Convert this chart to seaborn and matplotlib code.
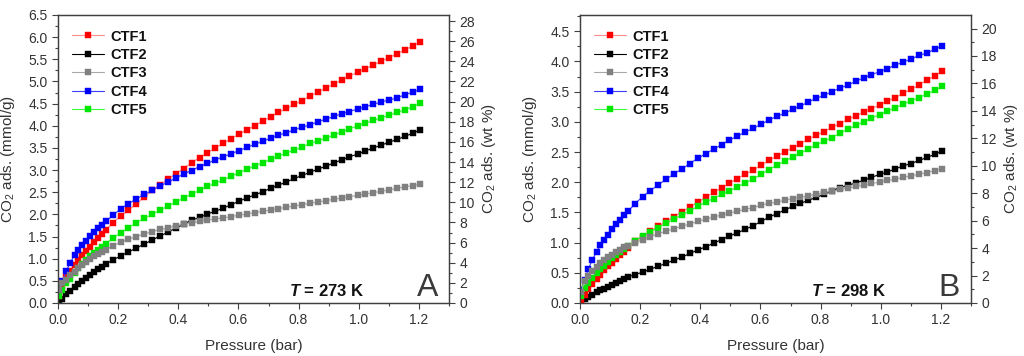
import matplotlib
matplotlib.use("Agg")
import matplotlib.pyplot as plt
from matplotlib.ticker import MultipleLocator, FormatStrFormatter
import pandas as pd
import seaborn as sns

# pressure points (bar), shared by both isotherm sets
pressure = [0.004, 0.015, 0.028, 0.041, 0.055, 0.068, 0.081, 0.094, 0.107, 0.120, 0.134, 0.147, 0.160,
            0.182, 0.208, 0.234, 0.261, 0.287, 0.313, 0.339, 0.366, 0.392, 0.418,
            0.444, 0.471, 0.497, 0.523, 0.549, 0.576, 0.602, 0.628, 0.654, 0.681,
            0.707, 0.733, 0.759, 0.786, 0.812, 0.838, 0.864, 0.891, 0.917, 0.943,
            0.969, 0.996, 1.022, 1.048, 1.074, 1.101, 1.127, 1.153, 1.179, 1.205]

# CO2 uptake at 273 K (mmol/g)
ctf1_273 = [0.15, 0.38, 0.58, 0.73, 0.86, 0.97, 1.08, 1.18, 1.27, 1.37, 1.47, 1.56, 1.65,
            1.81, 1.96, 2.09, 2.24, 2.39, 2.54, 2.67, 2.79, 2.92, 3.03, 3.17, 3.28, 3.39, 3.50,
            3.60, 3.71, 3.81, 3.91, 4.00, 4.11, 4.20, 4.30, 4.39, 4.48, 4.57, 4.67, 4.76, 4.85,
            4.94, 5.03, 5.12, 5.21, 5.29, 5.37, 5.46, 5.54, 5.63, 5.71, 5.80, 5.89]
ctf2_273 = [0.05, 0.10, 0.20, 0.28, 0.35, 0.43, 0.50, 0.57, 0.63, 0.70, 0.76, 0.82, 0.88,
            0.97, 1.06, 1.15, 1.24, 1.33, 1.42, 1.51, 1.60, 1.69, 1.78, 1.87, 1.93, 2.01, 2.07,
            2.14, 2.22, 2.30, 2.37, 2.44, 2.51, 2.59, 2.66, 2.73, 2.81, 2.88, 2.95, 3.02, 3.09,
            3.16, 3.23, 3.30, 3.36, 3.43, 3.50, 3.56, 3.63, 3.69, 3.76, 3.83, 3.91]
ctf3_273 = [0.30, 0.44, 0.53, 0.63, 0.71, 0.78, 0.86, 0.93, 0.99, 1.05, 1.11, 1.15, 1.20,
            1.29, 1.37, 1.44, 1.50, 1.56, 1.61, 1.66, 1.70, 1.74, 1.78, 1.81, 1.84, 1.87, 1.90,
            1.92, 1.95, 1.98, 2.01, 2.04, 2.07, 2.10, 2.13, 2.16, 2.19, 2.22, 2.25, 2.28, 2.31,
            2.34, 2.37, 2.40, 2.43, 2.46, 2.49, 2.52, 2.55, 2.59, 2.62, 2.65, 2.68]
ctf4_273 = [0.30, 0.50, 0.73, 0.91, 1.08, 1.20, 1.30, 1.41, 1.51, 1.60, 1.69, 1.76, 1.84,
            1.98, 2.12, 2.24, 2.35, 2.45, 2.54, 2.64, 2.73, 2.82, 2.91, 2.99, 3.08, 3.15, 3.23,
            3.30, 3.37, 3.44, 3.51, 3.58, 3.65, 3.72, 3.79, 3.84, 3.91, 3.97, 4.02, 4.09, 4.15,
            4.21, 4.27, 4.32, 4.38, 4.43, 4.48, 4.54, 4.58, 4.63, 4.70, 4.76, 4.82]
ctf5_273 = [0.15, 0.29, 0.44, 0.55, 0.67, 0.78, 0.87, 0.96, 1.05, 1.12, 1.20, 1.27, 1.34,
            1.46, 1.58, 1.70, 1.81, 1.91, 2.00, 2.09, 2.19, 2.28, 2.37, 2.46, 2.54, 2.63, 2.70,
            2.78, 2.86, 2.94, 3.02, 3.09, 3.17, 3.24, 3.31, 3.39, 3.45, 3.52, 3.60, 3.66, 3.72,
            3.79, 3.86, 3.93, 4.00, 4.06, 4.12, 4.18, 4.24, 4.30, 4.36, 4.43, 4.51]

# CO2 uptake at 298 K (mmol/g)
ctf1_298 = [0.05, 0.14, 0.24, 0.32, 0.40, 0.47, 0.54, 0.61, 0.67, 0.73, 0.79, 0.85, 0.91,
            1.02, 1.10, 1.19, 1.27, 1.35, 1.43, 1.51, 1.59, 1.67, 1.75, 1.83, 1.91, 1.98, 2.06,
            2.13, 2.20, 2.28, 2.36, 2.43, 2.50, 2.57, 2.64, 2.71, 2.78, 2.84, 2.91, 2.97, 3.04,
            3.10, 3.16, 3.22, 3.28, 3.34, 3.40, 3.47, 3.54, 3.61, 3.69, 3.76, 3.84]
ctf2_298 = [0.02, 0.06, 0.10, 0.14, 0.18, 0.21, 0.24, 0.27, 0.30, 0.33, 0.37, 0.40, 0.43,
            0.47, 0.51, 0.56, 0.61, 0.66, 0.71, 0.76, 0.82, 0.88, 0.93, 0.99, 1.05, 1.11, 1.16,
            1.22, 1.28, 1.35, 1.42, 1.48, 1.54, 1.60, 1.65, 1.70, 1.75, 1.80, 1.86, 1.91, 1.95,
            1.99, 2.03, 2.08, 2.13, 2.17, 2.22, 2.27, 2.31, 2.36, 2.41, 2.46, 2.52]
ctf3_298 = [0.18, 0.36, 0.45, 0.53, 0.60, 0.66, 0.71, 0.76, 0.80, 0.84, 0.88, 0.92, 0.95,
            1.00, 1.05, 1.10, 1.15, 1.19, 1.23, 1.27, 1.31, 1.35, 1.39, 1.42, 1.46, 1.49, 1.52,
            1.55, 1.58, 1.62, 1.65, 1.67, 1.70, 1.73, 1.75, 1.78, 1.80, 1.83, 1.85, 1.88, 1.90,
            1.93, 1.95, 1.98, 2.00, 2.03, 2.05, 2.08, 2.11, 2.13, 2.16, 2.19, 2.22]
ctf4_298 = [0.22, 0.38, 0.57, 0.71, 0.85, 0.96, 1.05, 1.13, 1.22, 1.30, 1.38, 1.45, 1.52,
            1.64, 1.76, 1.86, 1.96, 2.05, 2.14, 2.22, 2.31, 2.40, 2.47, 2.55, 2.62, 2.70, 2.76,
            2.83, 2.89, 2.96, 3.03, 3.09, 3.14, 3.21, 3.26, 3.33, 3.39, 3.44, 3.50, 3.56, 3.61,
            3.67, 3.73, 3.78, 3.83, 3.88, 3.94, 3.99, 4.04, 4.10, 4.14, 4.20, 4.26]
ctf5_298 = [0.12, 0.25, 0.33, 0.41, 0.49, 0.56, 0.62, 0.68, 0.74, 0.80, 0.85, 0.90, 0.95,
            1.03, 1.11, 1.18, 1.25, 1.32, 1.39, 1.46, 1.53, 1.60, 1.67, 1.73, 1.80, 1.86, 1.92,
            1.99, 2.05, 2.13, 2.21, 2.28, 2.35, 2.42, 2.48, 2.55, 2.62, 2.68, 2.74, 2.81, 2.88,
            2.94, 3.00, 3.06, 3.12, 3.18, 3.23, 3.29, 3.35, 3.40, 3.46, 3.52, 3.59]

samples = ["CTF1", "CTF2", "CTF3", "CTF4", "CTF5"]
marker_colors = {"CTF1": "#ff0000", "CTF2": "#000000", "CTF3": "#808080",
                 "CTF4": "#0000ff", "CTF5": "#00e600"}
line_colors = {"CTF1": "#ff8c8c", "CTF2": "#000000", "CTF3": "#a8a8a8",
               "CTF4": "#3c3cff", "CTF5": "#3cff3c"}
zorders = {"CTF1": 3, "CTF2": 2, "CTF3": 6, "CTF4": 4, "CTF5": 5}

WT_FACTOR = 4.4  # mmol/g -> wt %


def long_table(series):
    rows = []
    for name, vals in zip(samples, series):
        rows.append(pd.DataFrame({"pressure": pressure, "uptake": vals, "sample": name}))
    return pd.concat(rows, ignore_index=True)


df_273 = long_table([ctf1_273, ctf2_273, ctf3_273, ctf4_273, ctf5_273])
df_298 = long_table([ctf1_298, ctf2_298, ctf3_298, ctf4_298, ctf5_298])

sns.set_style("ticks")
plt.rcParams["font.family"] = ["Liberation Sans", "DejaVu Sans"]
plt.rcParams["mathtext.fontset"] = "custom"
plt.rcParams["mathtext.rm"] = "Liberation Sans"
plt.rcParams["mathtext.it"] = "Liberation Sans:italic"
plt.rcParams["mathtext.bf"] = "Liberation Sans:bold"
plt.rcParams["mathtext.bfit"] = "Liberation Sans:italic:bold"

spine_col = "#404040"
text_col = "#333333"

fig = plt.figure(figsize=(10.24, 3.56), dpi=100)
ax_a = fig.add_axes([0.0566, 0.1489, 0.3819, 0.8090])
ax_b = fig.add_axes([0.5664, 0.1489, 0.3818, 0.8090])


def draw_panel(ax, df, ymax, temp, letter):
    for name in samples:
        sub = df[df["sample"] == name]
        sns.lineplot(data=sub, x="pressure", y="uptake", ax=ax, label=name,
                     color=line_colors[name], linewidth=0.8, marker="s",
                     markersize=4.8, markerfacecolor=marker_colors[name],
                     markeredgecolor=marker_colors[name], markeredgewidth=0.3,
                     estimator=None, sort=False, zorder=zorders[name])
    ax.set_xlim(0, 1.3)
    ax.set_ylim(0, ymax)
    ax.xaxis.set_major_locator(MultipleLocator(0.2))
    ax.xaxis.set_minor_locator(MultipleLocator(0.1))
    ax.yaxis.set_major_locator(MultipleLocator(0.5))
    ax.yaxis.set_minor_locator(MultipleLocator(0.25))
    ax.xaxis.set_major_formatter(FormatStrFormatter("%.1f"))
    ax.yaxis.set_major_formatter(FormatStrFormatter("%.1f"))
    ax.tick_params(which="major", direction="out", length=4, width=0.8,
                   color=spine_col, labelsize=10, labelcolor=text_col)
    ax.tick_params(which="minor", direction="out", length=2, width=0.8, color=spine_col)
    for sp in ax.spines.values():
        sp.set_visible(True)
        sp.set_color(spine_col)
        sp.set_linewidth(0.9)
    ax.set_xlabel("Pressure (bar)", fontsize=11, color=text_col)
    ax.set_ylabel(r"CO$_2$ ads. (mmol/g)", fontsize=11, color=text_col)
    ax.xaxis.set_label_coords(0.5, -0.125)
    ax.yaxis.set_label_coords(-0.105, 0.5)

    leg = ax.legend(loc="upper left", bbox_to_anchor=(0.01, 0.985), frameon=False,
                    prop={"weight": "bold", "size": 10.5}, handlelength=2.2,
                    handletextpad=0.4, labelspacing=0.3, borderaxespad=0.3)
    for t in leg.get_texts():
        t.set_color("#111111")

    ax.text(0.59, 0.025, r"$\mathbfit{T}$ = " + temp, transform=ax.transAxes,
            fontsize=12, fontweight="bold", color="#111111", ha="left", va="baseline")
    ax.text(0.972, 0.025, letter, transform=ax.transAxes, fontsize=23,
            color="#3a3a3a", ha="right", va="baseline")

    ax2 = ax.twinx()
    ax2.set_ylim(0, ymax * WT_FACTOR)
    ax2.yaxis.set_major_locator(MultipleLocator(2))
    ax2.yaxis.set_minor_locator(MultipleLocator(1))
    ax2.tick_params(which="major", direction="out", length=4, width=0.8,
                    color=spine_col, labelsize=10, labelcolor=text_col)
    ax2.tick_params(which="minor", direction="out", length=2, width=0.8, color=spine_col)
    for sp in ax2.spines.values():
        sp.set_color(spine_col)
        sp.set_linewidth(0.9)
    ax2.set_ylabel(r"CO$_2$ ads. (wt %)", fontsize=11, color=text_col, rotation=90)
    ax2.yaxis.set_label_coords(1.08, 0.5)


draw_panel(ax_a, df_273, 6.5, "273 K", "A")
draw_panel(ax_b, df_298, 4.77, "298 K", "B")

fig.savefig("out.png", dpi=100, facecolor="white")
